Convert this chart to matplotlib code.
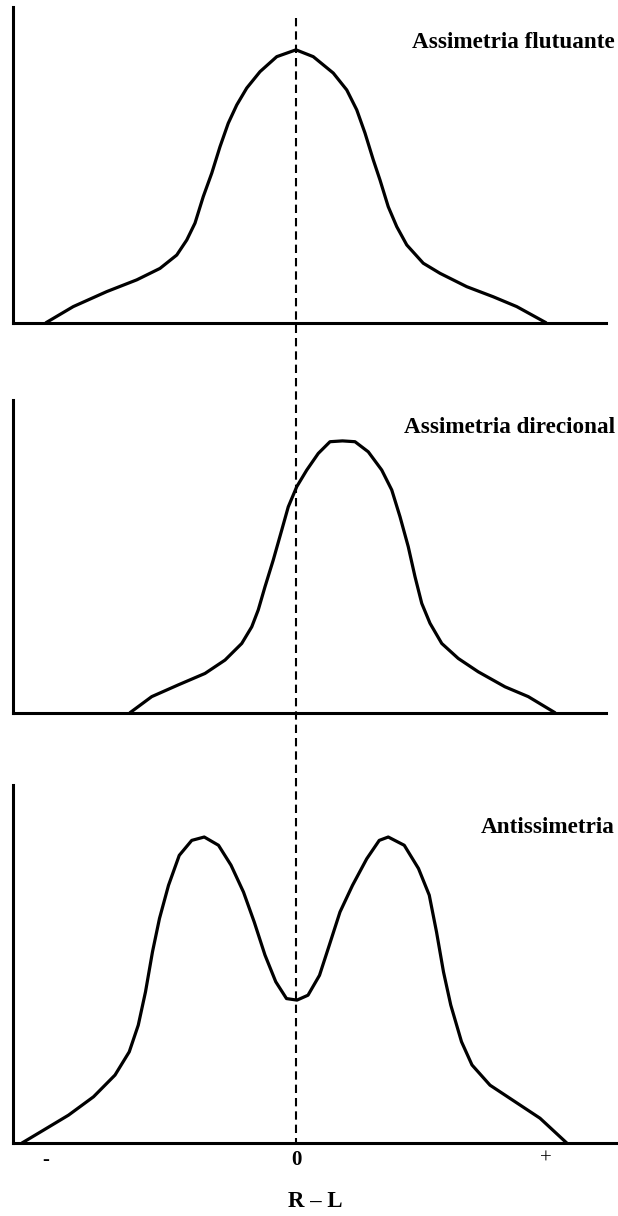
import matplotlib
matplotlib.use("Agg")
import matplotlib.pyplot as plt
from matplotlib.lines import Line2D
from matplotlib.transforms import blended_transform_factory

# ---- data (x: R-L, y: relative frequency) ----
fa_x = [-1.0, -0.891, -0.757, -0.637, -0.544, -0.477, -0.437, -0.404, -0.371, -0.337,
        -0.304, -0.271, -0.237, -0.197, -0.144, -0.077, 0.0, 0.069, 0.149, 0.203,
        0.243, 0.276, 0.309, 0.336, 0.369, 0.403, 0.443, 0.509, 0.576, 0.683,
        0.789, 0.883, 1.0]
fa_y = [0.0, 0.059, 0.114, 0.157, 0.199, 0.248, 0.303, 0.365, 0.462, 0.548,
        0.645, 0.731, 0.798, 0.86, 0.92, 0.975, 1.0, 0.975, 0.915, 0.853,
        0.78, 0.695, 0.597, 0.523, 0.425, 0.352, 0.285, 0.218, 0.181, 0.132,
        0.095, 0.059, 0.0]

da_x = [-0.664, -0.577, -0.471, -0.364, -0.284, -0.217, -0.177, -0.151, -0.124, -0.091,
        -0.057, -0.031, 0.003, 0.043, 0.089, 0.136, 0.186, 0.236, 0.289, 0.343,
        0.383, 0.416, 0.449, 0.476, 0.503, 0.536, 0.583, 0.649, 0.729, 0.836,
        0.929, 1.036]
da_y = [0.0, 0.059, 0.102, 0.144, 0.193, 0.254, 0.315, 0.377, 0.462, 0.56,
        0.67, 0.755, 0.829, 0.89, 0.951, 0.994, 0.997, 0.994, 0.957, 0.89,
        0.817, 0.719, 0.609, 0.499, 0.401, 0.328, 0.254, 0.199, 0.15, 0.095,
        0.059, 0.0]

as_x = [-1.096, -1.01, -0.91, -0.81, -0.724, -0.667, -0.631, -0.602, -0.574, -0.546,
        -0.51, -0.467, -0.417, -0.367, -0.31, -0.26, -0.21, -0.167, -0.124, -0.081,
        -0.038, 0.004, 0.048, 0.094, 0.133, 0.176, 0.226, 0.283, 0.333, 0.369,
        0.433, 0.49, 0.533, 0.562, 0.59, 0.619, 0.662, 0.704, 0.776, 0.876,
        0.976, 1.083]
as_y = [0.0, 0.042, 0.091, 0.151, 0.222, 0.298, 0.385, 0.494, 0.625, 0.734,
        0.842, 0.94, 0.989, 1.0, 0.973, 0.908, 0.82, 0.722, 0.614, 0.527,
        0.472, 0.467, 0.483, 0.548, 0.646, 0.755, 0.842, 0.929, 0.989, 1.0,
        0.973, 0.897, 0.81, 0.69, 0.559, 0.451, 0.331, 0.255, 0.189, 0.135,
        0.081, 0.0]

titles = ["Assimetria flutuante", "Assimetria direcional", "Antissimetria"]
tick_pos = [-1, 0, 1]
tick_labels = ["-", "0", "+"]
xlabel = "R \u2013 L"

# ---- layout ----
W, H = 618, 1216
fig = plt.figure(figsize=(W / 100, H / 100), dpi=100)
serif = ["Liberation Serif", "DejaVu Serif"]

def px_axes(left, right, top, bottom):
    return fig.add_axes([left / W, 1 - bottom / H, (right - left) / W, (bottom - top) / H])

x0 = -1.132
specs = [
    (px_axes(13, 606, 7, 322.7), fa_x, fa_y, 1.24, 1.157, 48),
    (px_axes(13, 606, 400, 712.7), da_x, da_y, 1.24, 1.147, 433),
    (px_axes(13, 618, 785, 1143), as_x, as_y, 1.288, 1.17, 833),
]

axes = []
for (ax, xs, ys, x1, ytop, tb), title in zip(specs, titles):
    ax.plot(xs, ys, color="black", lw=2.3, solid_joinstyle="round", solid_capstyle="round")
    ax.set_xlim(x0, x1)
    ax.set_ylim(0, ytop)
    for s in ["top", "right"]:
        ax.spines[s].set_visible(False)
    for s in ["left", "bottom"]:
        ax.spines[s].set_linewidth(2.2)
        ax.spines[s].set_color("black")
    ax.set_yticks([])
    ax.set_xticks([])
    ax.patch.set_alpha(0)
    fig.text(615 / W, 1 - tb / H, title, ha="right", va="baseline",
             fontsize=16.7, fontweight="bold", family=serif)
    axes.append(ax)

ax3 = axes[2]
ax3.set_xticks(tick_pos)
ax3.set_xticklabels(tick_labels, fontsize=15, family=serif)
for lab in ax3.get_xticklabels():
    if lab.get_text() in ("0", "-"):
        lab.set_fontweight("bold")
ax3.tick_params(axis="x", length=0, pad=5)
ax3.set_xlabel(xlabel, fontsize=16.5, fontweight="bold", family=serif, labelpad=15)

# vertical dashed line at R-L = 0 spanning all panels
trans = blended_transform_factory(ax3.transData, fig.transFigure)
ln = Line2D([0, 0], [1 - 18 / H, 1 - 1143 / H], transform=trans, color="black",
            lw=1.5, linestyle=(0, (4, 2.4)))
fig.add_artist(ln)

fig.savefig("out.png", dpi=100, facecolor="white")
